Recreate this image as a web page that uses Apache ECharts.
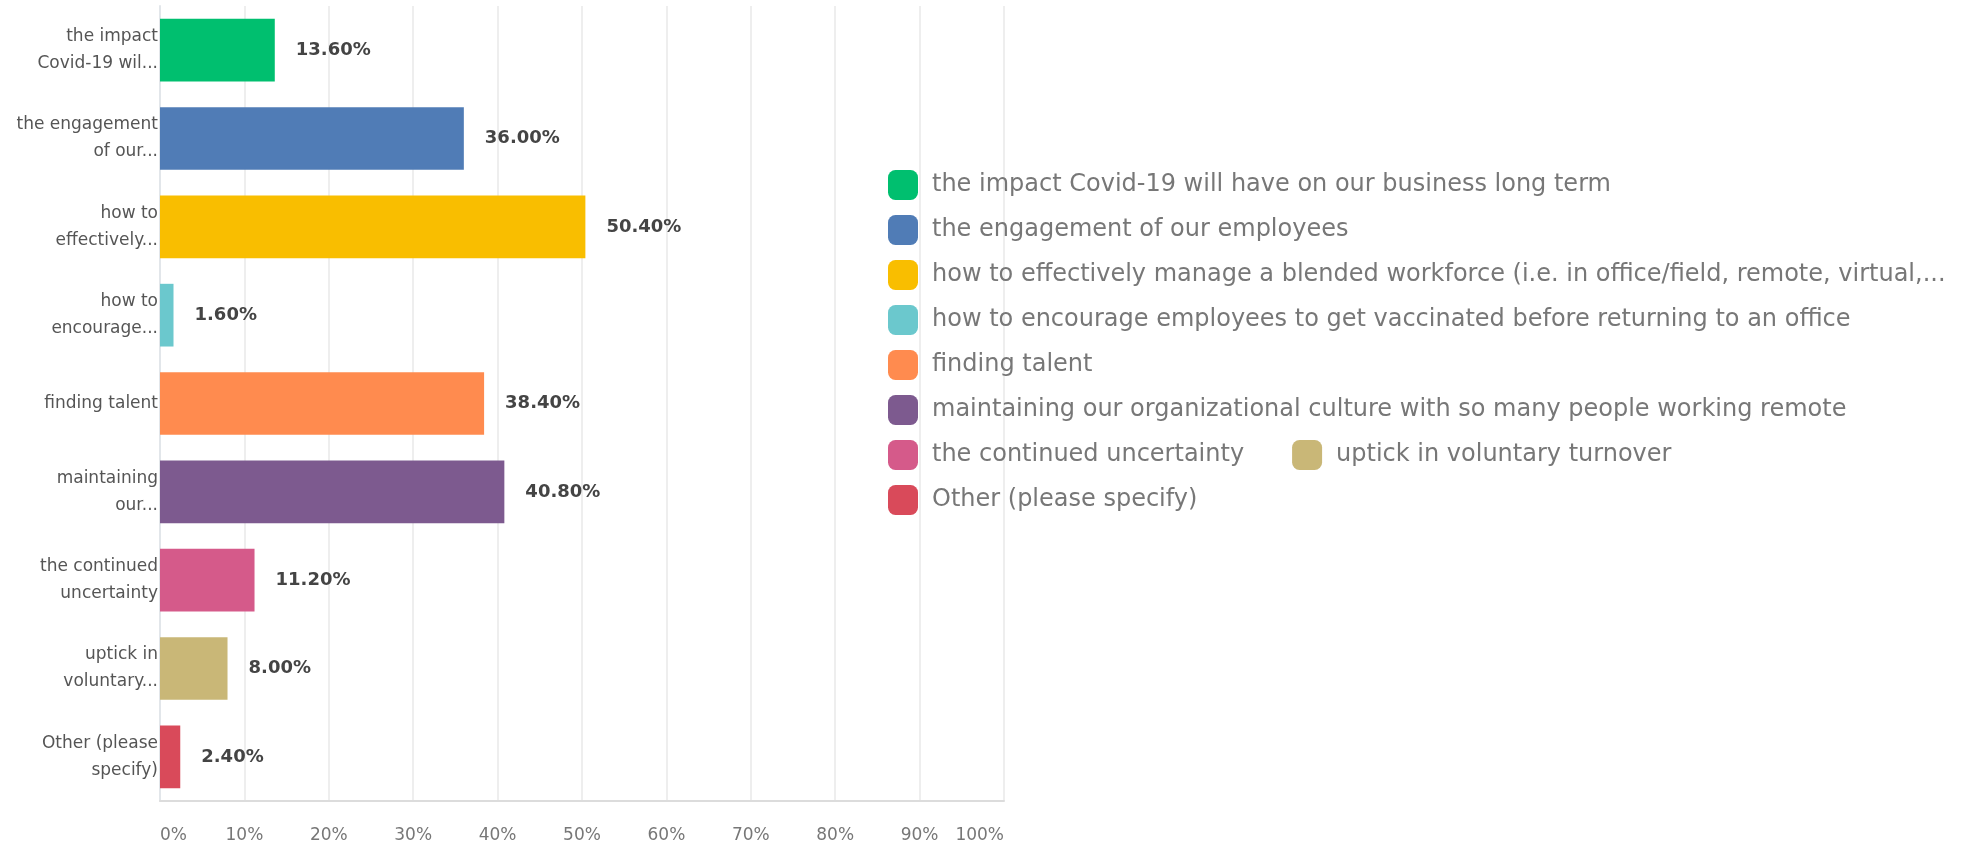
<!DOCTYPE html>
<html>
<head>
<meta charset="utf-8">
<script src="https://cdn.jsdelivr.net/npm/echarts@6/dist/echarts.min.js"></script>
<style>
  html, body { margin: 0; padding: 0; background: #ffffff; }
  #chart { width: 1975px; height: 846px; }
</style>
</head>
<body>
<div id="chart"></div>
<script>
// Full answer texts, shown in the legend
const answers = [
  'the impact Covid-19 will have on our business long term',
  'the engagement of our employees',
  'how to effectively manage a blended workforce (i.e. in office/field, remote, virtual,...',
  'how to encourage employees to get vaccinated before returning to an office',
  'finding talent',
  'maintaining our organizational culture with so many people working remote',
  'the continued uncertainty',
  'uptick in voluntary turnover',
  'Other (please specify)'
];

// Shortened axis labels
const categoryLabels = [
  'the impact\nCovid-19 wil...',
  'the engagement\nof our...',
  'how to\neffectively...',
  'how to\nencourage...',
  'finding talent',
  'maintaining\nour...',
  'the continued\nuncertainty',
  'uptick in\nvoluntary...',
  'Other (please\nspecify)'
];

// Share of respondents, percent
const percents = [13.6, 36.0, 50.4, 1.6, 38.4, 40.8, 11.2, 8.0, 2.4];

const colors = ['#00BF6F', '#507CB6', '#F9BE00', '#6BC8CD', '#FF8B4F',
                '#7D5A8F', '#D55A8A', '#C9B777', '#D94A5A'];

const xTicks = { min: 0, max: 100, interval: 10 };

// One series per answer so each bar gets its own legend entry
const series = answers.map(function (name, i) {
  return {
    name: name,
    type: 'bar',
    stack: 'answers',
    barCategoryGap: '29%',
    itemStyle: { color: colors[i] },
    label: {
      show: true,
      position: 'right',
      distance: 21,
      fontFamily: 'DejaVu Sans',
      fontSize: 18,
      fontWeight: 'bold',
      color: '#444444',
      formatter: function (p) { return p.value.toFixed(2) + '%'; }
    },
    data: percents.map(function (v, j) { return j === i ? v : '-'; })
  };
});

const chart = echarts.init(document.getElementById('chart'), null, { renderer: 'canvas' });
chart.setOption({
  animation: false,
  backgroundColor: '#ffffff',
  color: colors,
  grid: { left: 160, top: 6, width: 844, height: 795, containLabel: false },
  legend: {
    orient: 'horizontal',
    left: 883,
    top: 165,
    width: 1088,
    icon: 'roundRect',
    itemWidth: 30,
    itemHeight: 30,
    itemGap: 15,
    selectedMode: false,
    data: answers,
    textStyle: {
      fontFamily: 'DejaVu Sans',
      fontSize: 24,
      color: '#777777',
      lineHeight: 30,
      padding: [0, 33, 0, 9]
    }
  },
  xAxis: {
    type: 'value',
    min: xTicks.min,
    max: xTicks.max,
    interval: xTicks.interval,
    axisLine: { show: true, lineStyle: { color: '#dcdcdc', width: 2 } },
    axisTick: { show: false },
    splitLine: { show: true, lineStyle: { color: '#eeeeee', width: 2 } },
    axisLabel: {
      formatter: '{value}%',
      margin: 26,
      fontFamily: 'DejaVu Sans',
      fontSize: 17,
      color: '#777777',
      alignMinLabel: 'left',
      alignMaxLabel: 'right'
    }
  },
  yAxis: {
    type: 'category',
    inverse: true,
    data: categoryLabels,
    axisLine: { show: true, lineStyle: { color: '#e2e6ea', width: 2 } },
    axisTick: { show: false },
    splitLine: { show: false },
    axisLabel: {
      margin: 2,
      padding: [8, 0, 0, 0],
      fontFamily: 'DejaVu Sans',
      fontSize: 17,
      lineHeight: 27,
      color: '#555555',
      align: 'right'
    }
  },
  series: series
});
</script>
</body>
</html>
